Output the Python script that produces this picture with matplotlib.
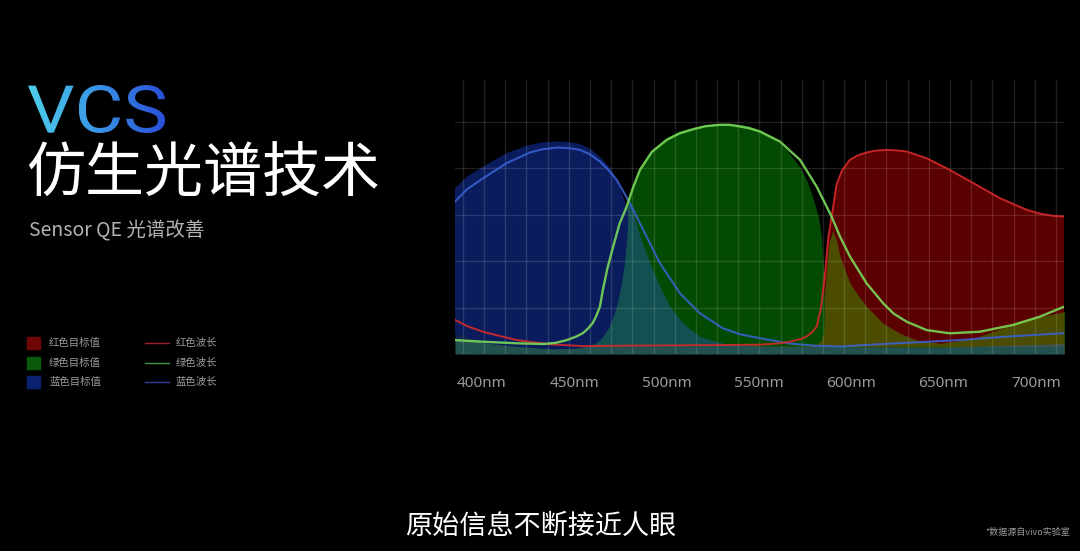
import numpy as np
import matplotlib
matplotlib.use('Agg')
import matplotlib.pyplot as plt
from matplotlib.textpath import TextPath
from matplotlib.patches import PathPatch, Rectangle
from matplotlib.font_manager import FontProperties
from matplotlib.transforms import Affine2D

plt.rcParams['font.family'] = ['Noto Sans CJK SC', 'DejaVu Sans']

# 目标值（填充）与波长曲线（线），横轴 nm，纵轴 QE
blue_target_nm = [385.4, 392, 400.7, 413.4, 424.2, 431, 438.6, 446, 453.1, 459, 463.9, 468, 471.1,
                  474, 476.5, 478.5, 479.3, 478.8, 477.5, 475.5, 473, 469.3, 465.5, 462.3, 457,
                  450, 438, 420, 400.5, 385.4]
blue_target_qe = [0.714, 0.765, 0.807, 0.865, 0.897, 0.909, 0.915, 0.913, 0.905, 0.882, 0.850, 0.815,
                  0.778, 0.73, 0.678, 0.63, 0.592, 0.50, 0.39, 0.29, 0.20, 0.116, 0.07, 0.047, 0.03,
                  0.022, 0.02, 0.03, 0.047, 0.089]

green_target_nm = [455, 460, 464, 468, 472, 476, 480, 485, 492, 500, 507, 515, 522, 530, 538, 545,
                   551, 557.6, 565, 572.3, 576, 579.3, 582.5, 584.2, 585.2, 585.8, 585.5, 584,
                   581.5, 560, 500, 455]
green_target_qe = [0.03, 0.09, 0.22, 0.38, 0.50, 0.59, 0.67, 0.785, 0.875, 0.93, 0.958, 0.975, 0.986,
                   0.99, 0.988, 0.98, 0.962, 0.935, 0.88, 0.806, 0.75, 0.677, 0.59, 0.504, 0.36,
                   0.2, 0.09, 0.055, 0.04, 0.035, 0.03, 0.03]

red_line_nm = [385.4, 392, 400.5, 410, 419, 428, 436.8, 454.7, 480, 520, 550, 560, 566.8, 572,
               575.8, 579, 581.3, 583.5, 585.8, 587.6, 590, 592.1, 595, 599.3, 603.5, 608.4, 613.5,
               619.2, 624.5, 630, 640.9, 651.7, 666.2, 680.6, 695.1, 702, 709.5, 715.3]
red_line_qe = [0.147, 0.12, 0.096, 0.077, 0.06, 0.05, 0.042, 0.034, 0.036, 0.038, 0.04, 0.045, 0.053,
               0.063, 0.075, 0.095, 0.118, 0.19, 0.34, 0.5, 0.62, 0.73, 0.79, 0.836, 0.855, 0.868,
               0.876, 0.879, 0.877, 0.872, 0.843, 0.80, 0.736, 0.671, 0.621, 0.605, 0.595, 0.592]
red_target_start = 14  # 红色目标值从 575.8nm 起与红色波长外沿重合

blue_line_nm = [385.4, 392, 400.7, 413.4, 426, 433, 440.5, 447, 453.1, 458.5, 463.9, 468.5, 473,
                480.2, 487.4, 496.4, 507.3, 518.1, 530.7, 539.8, 550.6, 566.8, 580, 593.9, 617.2,
                658.9, 684.4, 715.3]
blue_line_qe = [0.657, 0.71, 0.757, 0.822, 0.868, 0.882, 0.889, 0.887, 0.879, 0.86, 0.829, 0.793,
                0.750, 0.649, 0.534, 0.391, 0.261, 0.175, 0.110, 0.085, 0.068, 0.045, 0.036, 0.032,
                0.043, 0.06, 0.075, 0.09]

green_line_nm = [385.4, 400.5, 419, 433, 440, 446, 451, 454.7, 457.5, 460, 462, 463.9, 465.5, 468,
                 471.1, 474.5, 478.4, 482, 485.6, 492, 500.1, 507, 514.5, 521, 528.9, 534, 539.8,
                 545, 550.6, 561.4, 572.3, 581.3, 589.4, 594, 599.4, 608.4, 617.4, 623, 630.1,
                 640.9, 653.5, 669.8, 687.6, 702.3, 715.4]
green_line_qe = [0.06, 0.053, 0.046, 0.043, 0.048, 0.06, 0.075, 0.09, 0.11, 0.133, 0.165, 0.204,
                 0.276, 0.37, 0.463, 0.56, 0.635, 0.72, 0.793, 0.87, 0.922, 0.95, 0.968, 0.981,
                 0.987, 0.987, 0.98, 0.972, 0.958, 0.915, 0.836, 0.721, 0.592, 0.505, 0.419, 0.304,
                 0.218, 0.174, 0.139, 0.103, 0.089, 0.096, 0.125, 0.161, 0.204]

# 半透明的原始传感器响应
teal_nm = [385.4, 400, 420, 440, 455, 462, 468, 473, 477, 480.2, 483, 485.6, 491, 496.4, 501.8,
           509, 518.1, 530.6, 550, 600, 650, 715.3]
teal_qe = [0.09, 0.07, 0.055, 0.05, 0.08, 0.2, 0.42, 0.56, 0.63, 0.65, 0.58, 0.506, 0.391, 0.29,
           0.204, 0.132, 0.075, 0.046, 0.035, 0.03, 0.03, 0.045]
olive_nm = [385.4, 420, 460, 500, 550, 580, 584, 586, 588, 590, 592, 594, 599.4, 604, 608.4, 617.4,
            626.4, 635.5, 648.1, 666.2, 684.2, 702.3, 715.8]
olive_qe = [0.06, 0.045, 0.04, 0.04, 0.1, 0.4, 0.1, 0.3, 0.48, 0.53, 0.49, 0.42, 0.305, 0.25, 0.204,
            0.132, 0.089, 0.06, 0.046, 0.067, 0.118, 0.161, 0.183]

tick_nm = [400, 450, 500, 550, 600, 650, 700]
tick_labels = ['400nm', '450nm', '500nm', '550nm', '600nm', '650nm', '700nm']

legend_fill = ['红色目标值', '绿色目标值', '蓝色目标值']
legend_line = ['红色波长', '绿色波长', '蓝色波长']

W, H = 1080, 551
fig = plt.figure(figsize=(W / 100, H / 100), dpi=100, facecolor='black')

# 文字层，像素坐标
over = fig.add_axes([0, 0, 1, 1], facecolor='none')
over.set_xlim(0, W)
over.set_ylim(0, H)
over.axis('off')

# VCS 渐变字
tp = TextPath((0, 0), 'VCS', size=60, prop=FontProperties(family='Roboto', weight='normal'))
bb = tp.get_extents()
x0, x1, y0, y1 = 28, 165, H - 133, H - 85
tr = Affine2D().translate(-bb.x0, -bb.y0).scale((x1 - x0) / bb.width, (y1 - y0) / bb.height).translate(x0, y0)
patch = PathPatch(tr.transform_path(tp), fc='none', ec='none')
over.add_patch(patch)
grad = np.linspace(0, 1, 256).reshape(1, -1)
cmap = matplotlib.colors.LinearSegmentedColormap.from_list('vcs', ['#4fd0ea', '#3a95e6', '#2a4fd8'])
over.imshow(grad, extent=(x0, x1, y0, y1), cmap=cmap, aspect='auto', clip_path=patch, zorder=3)
over.set_xlim(0, W)
over.set_ylim(0, H)

over.text(26, H - 175, '仿生光谱技术', color='white', fontsize=42.5, va='center', ha='left',
          weight='light')
over.text(29, H - 231, 'Sensor QE 光谱改善', color='#b4b4b4', fontsize=14, va='center', ha='left')

fill_cols = ['#6e0606', '#0b5a0b', '#0c2170']
line_cols = ['#a3202a', '#3f8f45', '#33409f']
for i in range(3):
    yy = H - (343 + i * 19.5)
    over.add_patch(Rectangle((27, yy - 6), 13, 12, color=fill_cols[i]))
    over.text(49, yy, legend_fill[i], color='#9a9a9a', fontsize=7.5, va='center')
    over.plot([145, 169], [yy, yy], color=line_cols[i], lw=1)
    over.text(176, yy, legend_line[i], color='#9a9a9a', fontsize=7.5, va='center')

over.text(541, H - 526, '原始信息不断接近人眼', color='white', fontsize=19.5, ha='center', va='center')
over.text(1070, H - 532, '*数据源自vivo实验室', color='#9a9a9a', fontsize=6.5, ha='right', va='center')

# 曲线区
ax = fig.add_axes([455 / W, 1 - 354 / H, 609 / W, 274 / H], facecolor='black')
ax.set_xlim(385.4, 715.3)
ax.set_ylim(0, 1.18)

ax.fill(red_line_nm[red_target_start:] + [715.3, 575.8],
        red_line_qe[red_target_start:] + [0.03, 0.03], color='#5a0000', lw=0, zorder=1)
ax.fill_between(olive_nm, 0, olive_qe, color='#3caa00', alpha=0.45, lw=0, zorder=1.1)
ax.fill(green_target_nm, green_target_qe, color='#034a03', lw=0, zorder=1.2)
ax.fill_between(teal_nm, 0, teal_qe, color='#2d5ac8', alpha=0.4, lw=0, zorder=1.3)
ax.fill(blue_target_nm, blue_target_qe, color='#0a1c5c', lw=0, zorder=1.4)

ax.plot(blue_line_nm, blue_line_qe, color='#3a63d6', lw=1.5, alpha=0.85, zorder=3)
ax.plot(red_line_nm, red_line_qe, color='#d42a2a', lw=1.4, alpha=0.9, zorder=3.1)
ax.plot(green_line_nm, green_line_qe, color='#7ad85a', lw=1.7, alpha=0.9, zorder=3.2)

grid_nm = np.linspace(389.7, 710.9, 29)
ax.set_xticks(grid_nm, minor=True)
ax.set_xticks(tick_nm)
ax.set_xticklabels(tick_labels, family=['Noto Sans', 'DejaVu Sans'])
ax.set_yticks([0.2, 0.4, 0.6, 0.8, 1.0])
ax.set_yticklabels([])
ax.tick_params(which='both', length=0)
ax.tick_params(axis='x', colors='#9a9a9a', labelsize=11, pad=16)
ax.xaxis.grid(True, which='minor', color='white', alpha=0.13, lw=1)
ax.yaxis.grid(True, which='major', color='white', alpha=0.13, lw=1)
ax.set_axisbelow(False)
for s in ax.spines.values():
    s.set_visible(False)

fig.savefig('out.png', dpi=100, facecolor='black')
